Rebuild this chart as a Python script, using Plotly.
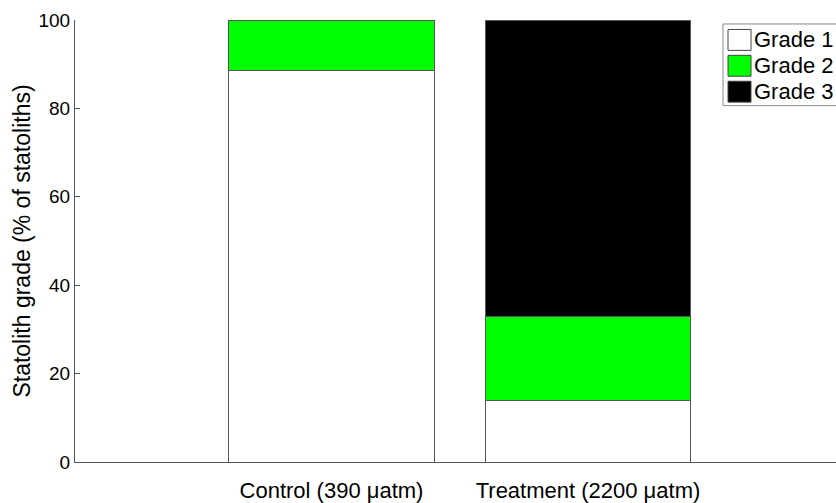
import plotly.graph_objects as go

categories = ["Control (390 μatm)", "Treatment (2200 μatm)"]
positions = [1, 2]
grade1 = [88.5, 14.0]
grade2 = [11.5, 19.0]
grade3 = [0.0, 67.0]
series_names = ["Grade 1", "Grade 2", "Grade 3"]
series_colors = ["#ffffff", "#00ff00", "#000000"]
y_ticks = [0, 20, 40, 60, 80, 100]

W, H = 836, 503
ML, MR, MT, MB = 75, 0, 20, 39
PW, PH = W - ML - MR, H - MT - MB


def px_x(p):
    return (p - ML) / PW


def px_y(p):
    return (H - MB - p) / PH


fig = go.Figure()
for name, vals, col in zip(series_names, [grade1, grade2, grade3], series_colors):
    fig.add_trace(go.Bar(
        x=positions, y=vals, name=name, width=0.8, showlegend=False,
        marker=dict(color=col, line=dict(color="#555555", width=1)),
    ))

font = "Liberation Sans, Arial, sans-serif"

# legend box drawn as layout decoration (swatches larger than plotly's built-in)
shapes = [dict(type="rect", xref="paper", yref="paper",
               x0=px_x(723), x1=1.2, y0=px_y(106), y1=px_y(24),
               line=dict(color="#888888", width=1), fillcolor="white", layer="above")]
annotations = []
row_centers = [40, 66, 92]
for name, col, cy in zip(series_names, series_colors, row_centers):
    shapes.append(dict(type="rect", xref="paper", yref="paper",
                       x0=px_x(728), x1=px_x(751), y0=px_y(cy + 10.5), y1=px_y(cy - 10.5),
                       line=dict(color="#444444", width=1), fillcolor=col, layer="above"))
    annotations.append(dict(text=name, xref="paper", yref="paper",
                            x=px_x(752), y=px_y(cy), xanchor="left", yanchor="middle",
                            showarrow=False, font=dict(size=22, family=font, color="black")))

fig.update_layout(
    width=W, height=H,
    barmode="stack",
    plot_bgcolor="white", paper_bgcolor="white",
    margin=dict(l=ML, r=MR, t=MT, b=MB),
    font=dict(family=font, size=19, color="black"),
    showlegend=False,
    shapes=shapes,
    annotations=annotations,
    xaxis=dict(
        range=[0, 2.967], tickmode="array", tickvals=positions, ticktext=categories,
        showline=True, linecolor="#555555", linewidth=1, ticks="",
        showgrid=False, zeroline=False, tickfont=dict(size=22),
        ticklabelstandoff=9,
    ),
    yaxis=dict(
        range=[0, 100], tickmode="array", tickvals=y_ticks,
        showline=True, linecolor="#555555", linewidth=1,
        ticks="inside", ticklen=5, tickcolor="#555555",
        showgrid=False, zeroline=False, tickfont=dict(size=19),
        title=dict(text="Statolith grade (% of statoliths)", font=dict(size=23), standoff=1),
    ),
)

fig.write_html("out.html", config={"displayModeBar": False},
               post_script="document.body.style.margin='0';document.body.style.overflow='hidden';")
